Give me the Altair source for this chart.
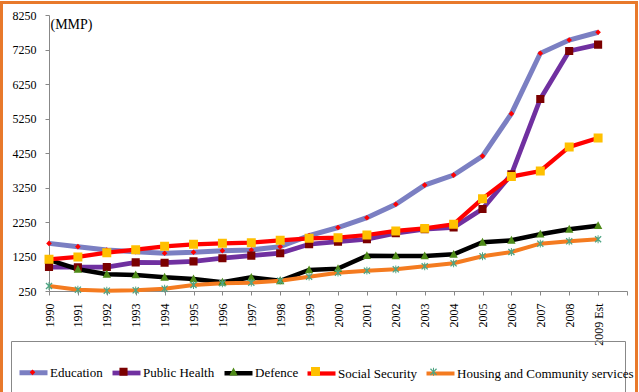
import json
import altair as alt
import pandas as pd

# ---------------- data ----------------
years = ["1990", "1991", "1992", "1993", "1994", "1995", "1996", "1997", "1998", "1999",
         "2000", "2001", "2002", "2003", "2004", "2005", "2006", "2007", "2008", "2009 Est"]
series = ["Education", "Public Health", "Defence", "Social Security",
          "Housing and Community services"]
education = [1630, 1535, 1440, 1390, 1345, 1372, 1420, 1440, 1535, 1855,
             2090, 2375, 2765, 3320, 3610, 4160, 5390, 7140, 7525, 7750]
public_health = [945, 940, 945, 1080, 1070, 1110, 1200, 1275, 1345, 1605,
                 1680, 1750, 1925, 2040, 2095, 2625, 3630, 5815, 7205, 7390]
defence = [1150, 880, 735, 715, 648, 600, 505, 645, 545, 860,
           898, 1272, 1265, 1265, 1312, 1662, 1720, 1895, 2038, 2143]
social_security = [1170, 1237, 1360, 1447, 1546, 1604, 1632, 1650, 1720, 1778,
                   1795, 1873, 1990, 2065, 2183, 2926, 3566, 3729, 4425, 4686]
housing = [395, 288, 260, 270, 317, 424, 473, 491, 549, 665,
           781, 839, 879, 966, 1053, 1256, 1381, 1621, 1691, 1749]
y_ticks = [250, 1250, 2250, 3250, 4250, 5250, 6250, 7250, 8250]

# ---------------- styles ----------------
line_colors = ["#7B7FC2", "#7030A0", "#000000", "#FF0000", "#F47B20"]
line_widths = [5, 4, 2.5, 5, 3]
marker_colors = ["#FF0000", "#7B0000", "#4E8A18", "#FFC000", "#4EA584"]
SPAN = "M-1.11,0L1.11,0"   # zero-area span: legend markers share the line symbol's extent
a, w = 0.25, 0.065
asterisk = (f"M{-a},{-a + w}L{-a + w},{-a}L0,{-w}L{a - w},{-a}L{a},{-a + w}L{w},0"
            f"L{a},{a - w}L{a - w},{a}L0,{w}L{-a + w},{a}L{-a},{a - w}L{-w},0Z"
            "M-0.035,-0.28H0.035V0.28H-0.035Z")
marker_paths = [SPAN + p for p in [
    "M0,-0.2L0.2,0L0,0.2L-0.2,0Z",
    "M-0.29,-0.29H0.29V0.29H-0.29Z",
    "M0,-0.32L0.3,0.24L-0.3,0.24Z",
    "M-0.32,-0.32H0.32V0.32H-0.32Z",
    asterisk,
]]

FONT = "Liberation Serif"
rows = []
for k, (name, vals) in enumerate(zip(series, [education, public_health, defence,
                                              social_security, housing])):
    for i, v in enumerate(vals):
        rows.append({"series": name, "marker": name, "order": k, "idx": i,
                     "year": years[i], "value": v})
df = pd.DataFrame(rows)

W, H = 578, 276
LEG_X, LEG_Y = -32, 341

x_enc = alt.X(
    "idx:Q",
    scale=alt.Scale(domain=[0, len(years)], nice=False, zero=False),
    axis=alt.Axis(
        values=list(range(len(years) + 1)),
        labelExpr=f"{json.dumps(years)}[datum.value] || ''",
        labelAngle=270, labelAlign="right", labelBaseline="middle",
        labelFont=FONT, labelFontSize=12, labelColor="black",
        labelPadding=8, tickSize=4, tickColor="#888888", domainColor="#888888",
        grid=False, title=None, labelOverlap=False,
    ),
)
y_enc = alt.Y(
    "value:Q",
    scale=alt.Scale(domain=[y_ticks[0], y_ticks[-1]], nice=False, zero=False),
    axis=alt.Axis(
        values=y_ticks, format="d", grid=False,
        labelFont=FONT, labelFontSize=12, labelColor="black", labelPadding=9,
        tickSize=4, tickColor="#888888", domainColor="#888888",
        title="(MMP)", titleAngle=0, titleAlign="left", titleBaseline="alphabetic",
        titleX=1, titleY=13, titleFont=FONT, titleFontSize=14,
        titleFontWeight="normal", titleColor="black",
    ),
)

common_leg = dict(
    orient="none", legendX=LEG_X, legendY=LEG_Y, direction="horizontal",
    columns=5, symbolSize=784, symbolStrokeWidth=3, labelFont=FONT, labelFontSize=13,
    labelColor="black", labelOffset=0, columnPadding=0, padding=0,
    labelLimit=400, title=None,
)

base = alt.Chart(df)
lines = base.mark_line().encode(
    x=x_enc, y=y_enc,
    stroke=alt.Stroke("series:N", sort=alt.EncodingSortField("order", op="min"),
                      scale=alt.Scale(range=line_colors),
                      legend=alt.Legend(symbolType="stroke", **common_leg)),
    strokeWidth=alt.StrokeWidth("series:N", sort=alt.EncodingSortField("order", op="min"),
                                scale=alt.Scale(range=line_widths), legend=None),
)
leg_b = dict(labelOpacity=0, symbolStrokeColor="transparent", **common_leg)
points = base.mark_point(filled=True, size=784, opacity=1).encode(
    x=x_enc, y=y_enc,
    fill=alt.Fill("marker:N", scale=alt.Scale(domain=series, range=marker_colors),
                  legend=alt.Legend(**leg_b)),
    shape=alt.Shape("marker:N", scale=alt.Scale(domain=series, range=marker_paths),
                    legend=alt.Legend(**leg_b)),
)

one = alt.Data(values=[{"k": 1}])
frame = alt.Chart(one).mark_rect(fill="transparent", stroke="#E8792B", strokeWidth=3).encode(
    x=alt.value(-47.5), x2=alt.value(587.5), y=alt.value(-12.5), y2=alt.value(420)
)
legend_box = alt.Chart(one).mark_rect(fill="transparent", stroke="#888888", strokeWidth=1).encode(
    x=alt.value(-37.5), x2=alt.value(576.5), y=alt.value(326.5), y2=alt.value(420)
)

chart = alt.layer(frame, legend_box, lines, points).properties(
    width=W, height=H,
    autosize=alt.AutoSizeParams(type="none"),
    padding={"left": 49, "top": 15, "right": 12, "bottom": 101},
).configure_view(stroke="transparent")

chart.save("out.html", embed_options={"renderer": "svg", "actions": False})
